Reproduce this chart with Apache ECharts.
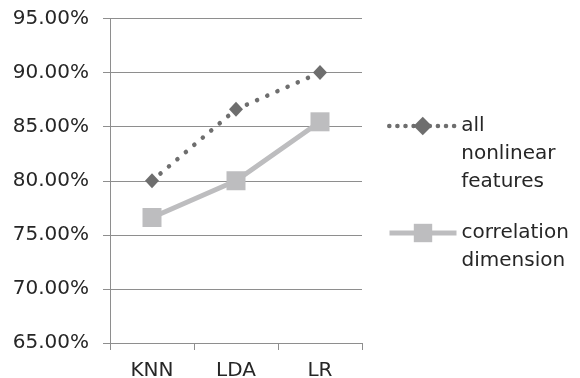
<!DOCTYPE html>
<html>
<head>
<meta charset="utf-8">
<script src="https://cdn.jsdelivr.net/npm/echarts@6/dist/echarts.min.js"></script>
<style>
  html, body { margin: 0; padding: 0; background: #ffffff; }
  #chart { width: 580px; height: 378px; }
</style>
</head>
<body>
<div id="chart"></div>
<script>
// Classifier accuracy (%) for two feature sets
const categories = ['KNN', 'LDA', 'LR'];
const allNonlinear = [80.00, 86.60, 90.00];
const correlationDim = [76.60, 80.00, 85.45];
const seriesNames = ['all nonlinear features', 'correlation dimension'];
// Leading blank lines keep the first word level with the legend icon
const legendLabels = ['\n\nall\nnonlinear\nfeatures', '\ncorrelation\ndimension'];
const yMin = 65, yMax = 95, yStep = 5;

const FONT = 'DejaVu Sans';
const TEXT = '#262626';
const GRID = '#8e8e8e';
const DARK = '#6e6e6e';
const LIGHT = '#bdbdbf';

const chart = echarts.init(document.getElementById('chart'), null, { renderer: 'canvas' });

function legendFor(i, top, lineStyle) {
  return {
    orient: 'vertical',
    left: 382,
    top: top,
    itemWidth: 67,
    itemHeight: 23,
    selectedMode: false,
    data: [seriesNames[i]],
    formatter: () => legendLabels[i],
    lineStyle: lineStyle,
    textStyle: { fontFamily: FONT, fontSize: 20, color: TEXT, lineHeight: 28 }
  };
}

chart.setOption({
  animation: false,
  backgroundColor: '#ffffff',
  grid: {
    left: 110, right: 218, top: 18.5, bottom: 35,
    containLabel: false, outerBoundsMode: 'none'
  },
  xAxis: {
    type: 'category',
    data: categories,
    boundaryGap: true,
    axisLine: { lineStyle: { color: GRID, width: 1 } },
    axisTick: { show: true, length: 7, lineStyle: { color: GRID } },
    axisLabel: { fontFamily: FONT, fontSize: 20, color: TEXT, margin: 18 }
  },
  yAxis: {
    type: 'value',
    min: yMin, max: yMax, interval: yStep,
    axisLine: { show: true, lineStyle: { color: GRID, width: 1 } },
    axisTick: { show: true, length: 7, lineStyle: { color: GRID } },
    splitLine: { show: true, lineStyle: { color: GRID, width: 1 } },
    axisLabel: {
      fontFamily: FONT, fontSize: 20, color: TEXT, margin: 21,
      formatter: v => v.toFixed(2) + '%'
    }
  },
  legend: [
    legendFor(0, 51, { color: DARK, width: 4.5, type: [0.1, 8], cap: 'round' }),
    legendFor(1, 186, { color: LIGHT, width: 5 })
  ],
  series: [
    {
      name: seriesNames[1],
      type: 'line',
      data: correlationDim,
      symbol: 'rect',
      symbolSize: 19,
      lineStyle: { color: LIGHT, width: 5 },
      itemStyle: { color: LIGHT },
      z: 2
    },
    {
      name: seriesNames[0],
      type: 'line',
      data: allNonlinear,
      symbol: 'diamond',
      symbolSize: [14, 15],
      lineStyle: { color: DARK, width: 4.5, type: [0.1, 11], cap: 'round' },
      itemStyle: { color: DARK },
      z: 3
    }
  ]
});
</script>
</body>
</html>
